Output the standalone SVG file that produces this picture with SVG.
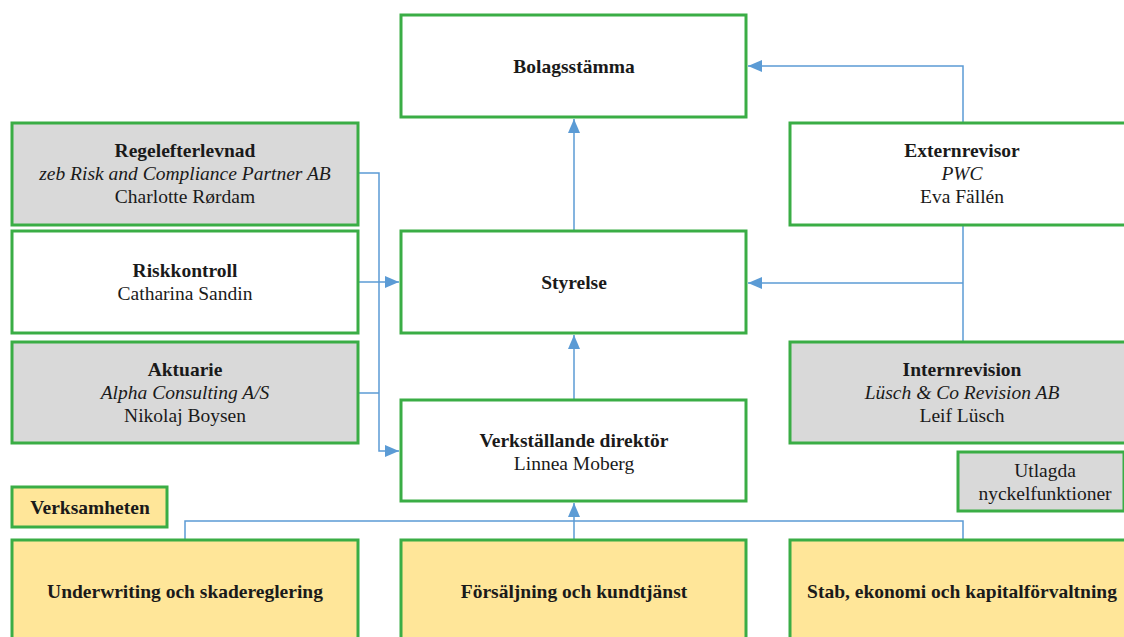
<svg xmlns="http://www.w3.org/2000/svg" width="1124" height="637" viewBox="0 0 1124 637">
<style>
.box{stroke:#3aad45;stroke-width:3;fill:#ffffff}
.gray{fill:#d9d9d9}
.yel{fill:#ffe699}
text{font-family:'Liberation Serif','DejaVu Serif',serif;fill:#1a1a1a;text-anchor:middle;font-size:19.5px}
.b{font-weight:bold}
.i{font-style:italic}
.con{stroke:#5b9bd5;stroke-width:1.5;fill:none}
</style>
<defs>
<marker id="arr2" viewBox="0 0 14 12" refX="14" refY="6" markerWidth="14" markerHeight="12" markerUnits="userSpaceOnUse" orient="auto">
<path d="M0,0 L14,6 L0,12 z" fill="#5b9bd5"/>
</marker>
</defs>
<g id="connectors">
<path class="con" d="M574,231 V119" marker-end="url(#arr2)"/>
<path class="con" d="M574,400 V335" marker-end="url(#arr2)"/>
<path class="con" d="M574,540 V503" marker-end="url(#arr2)"/>
<path class="con" d="M185,540 V521 H963 V540"/>
<path class="con" d="M963,123 V66 H748" marker-end="url(#arr2)"/>
<path class="con" d="M963,225 V342"/>
<path class="con" d="M963,283 H748" marker-end="url(#arr2)"/>
<path class="con" d="M358,173 H379 V451 H399" marker-end="url(#arr2)"/>
<path class="con" d="M358,282 H399" marker-end="url(#arr2)"/>
<path class="con" d="M358,393 H379"/>
</g>
<g font-family="Liberation Serif, DejaVu Serif, serif">
<g id="bolagsstamma"><rect class="box" x="401" y="15" width="345" height="102"/><text class="b" x="574" y="73">Bolagsstämma</text></g>
<g id="styrelse"><rect class="box" x="401" y="231" width="345" height="102"/><text class="b" x="574" y="289">Styrelse</text></g>
<g id="vd"><rect class="box" x="401" y="400" width="345" height="101"/><text class="b" x="574" y="447">Verkställande direktör</text><text x="574" y="470">Linnea Moberg</text></g>
<g id="regelefterlevnad"><rect class="box gray" x="12" y="123" width="346" height="102"/><text class="b" x="185" y="157">Regelefterlevnad</text><text class="i" x="185" y="180">zeb Risk and Compliance Partner AB</text><text x="185" y="203">Charlotte Rørdam</text></g>
<g id="riskkontroll"><rect class="box" x="12" y="231" width="346" height="102"/><text class="b" x="185" y="277">Riskkontroll</text><text x="185" y="300">Catharina Sandin</text></g>
<g id="aktuarie"><rect class="box gray" x="12" y="342" width="346" height="101"/><text class="b" x="185" y="376">Aktuarie</text><text class="i" x="185" y="399">Alpha Consulting A/S</text><text x="185" y="422">Nikolaj Boysen</text></g>
<g id="externrevisor"><rect class="box" x="790" y="123" width="346" height="102"/><text class="b" x="962" y="157">Externrevisor</text><text class="i" x="962" y="180">PWC</text><text x="962" y="203">Eva Fällén</text></g>
<g id="internrevision"><rect class="box gray" x="790" y="342" width="346" height="101"/><text class="b" x="962" y="376">Internrevision</text><text class="i" x="962" y="399">Lüsch &amp; Co Revision AB</text><text x="962" y="422">Leif Lüsch</text></g>
<g id="utlagda"><rect class="box gray" x="958" y="452" width="166" height="59"/><text x="1045" y="477">Utlagda</text><text x="1045" y="500">nyckelfunktioner</text></g>
<g id="verksamheten"><rect class="box yel" x="12" y="487" width="155" height="40"/><text class="b" x="90" y="514">Verksamheten</text></g>
<g id="underwriting"><rect class="box yel" x="12" y="540" width="346" height="110"/><text class="b" x="185" y="598">Underwriting och skadereglering</text></g>
<g id="forsaljning"><rect class="box yel" x="401" y="540" width="345" height="110"/><text class="b" x="574" y="598">Försäljning och kundtjänst</text></g>
<g id="stab"><rect class="box yel" x="790" y="540" width="346" height="110"/><text class="b" x="962" y="598">Stab, ekonomi och kapitalförvaltning</text></g>
</g>
</svg>
